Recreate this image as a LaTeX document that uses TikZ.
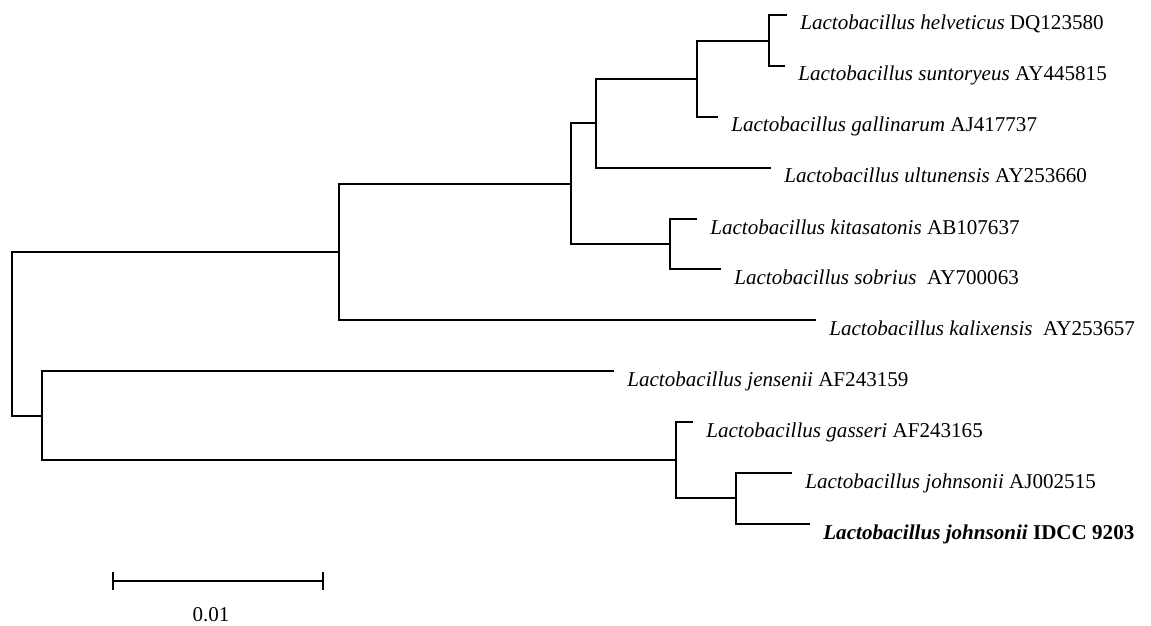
\documentclass[tikz,border=0pt]{standalone}
\usepackage{fontspec}
\setmainfont{Liberation Serif}
\usetikzlibrary{arrows.meta,positioning}

\begin{document}
\begin{tikzpicture}[x=0.02cm,y=-0.02cm,
  branch/.style={line width=1.1pt},
  taxon/.style={anchor=base west,inner sep=0pt,xshift=0.26cm,yshift=-0.3cm,font=\fontsize{12}{14}\selectfont}]
\useasboundingbox (0,0) rectangle (1151,625);
% inner nodes
\coordinate (root) at (12,334);
\coordinate (nA) at (339,252);
\coordinate (nB) at (42,416);
\coordinate (nC) at (571,184);
\coordinate (nD) at (596,123);
\coordinate (nE) at (697,79);
\coordinate (nF) at (769,41);
\coordinate (nG) at (670,244);
\coordinate (nH) at (676,460);
\coordinate (nI) at (736,498);
% tips
\coordinate (helv) at (787,15);
\coordinate (sunt) at (785,66);
\coordinate (gall) at (718,117);
\coordinate (ultu) at (771,168);
\coordinate (kita) at (697,219);
\coordinate (sobr) at (721,269);
\coordinate (kali) at (816,320);
\coordinate (jens) at (614,371);
\coordinate (gass) at (693,422);
\coordinate (john) at (792,473);
\coordinate (idcc) at (810,524);

\draw[branch] (root) |- (nA);
\draw[branch] (root) |- (nB);
\draw[branch] (nA) |- (nC);
\draw[branch] (nA) |- (kali);
\draw[branch] (nC) |- (nD);
\draw[branch] (nC) |- (nG);
\draw[branch] (nD) |- (nE);
\draw[branch] (nD) |- (ultu);
\draw[branch] (nE) |- (nF);
\draw[branch] (nE) |- (gall);
\draw[branch] (nF) |- (helv);
\draw[branch] (nF) |- (sunt);
\draw[branch] (nG) |- (kita);
\draw[branch] (nG) |- (sobr);
\draw[branch] (nB) |- (jens);
\draw[branch] (nB) |- (nH);
\draw[branch] (nH) |- (gass);
\draw[branch] (nH) |- (nI);
\draw[branch] (nI) |- (john);
\draw[branch] (nI) |- (idcc);

\node[taxon] (helvlbl) at (helv) {\textit{Lactobacillus helveticus} DQ123580};
\node[taxon] (suntlbl) at (sunt) {\textit{Lactobacillus suntoryeus} AY445815};
\node[taxon] (galllbl) at (gall) {\textit{Lactobacillus gallinarum} AJ417737};
\node[taxon] (ultulbl) at (ultu) {\textit{Lactobacillus ultunensis} AY253660};
\node[taxon] (kitalbl) at (kita) {\textit{Lactobacillus kitasatonis} AB107637};
\node[taxon] (sobrlbl) at (sobr) {\textit{Lactobacillus sobrius}\enspace AY700063};
\node[taxon] (kalilbl) at (kali) {\textit{Lactobacillus kalixensis}\enspace AY253657};
\node[taxon] (jenslbl) at (jens) {\textit{Lactobacillus jensenii} AF243159};
\node[taxon] (gasslbl) at (gass) {\textit{Lactobacillus gasseri} AF243165};
\node[taxon] (johnlbl) at (john) {\textit{Lactobacillus johnsonii} AJ002515};
\node[taxon] (idcclbl) at (idcc) {\textbf{\textit{Lactobacillus johnsonii} IDCC 9203}};

% scale bar
\coordinate (barl) at (112,581);
\coordinate (barr) at (324,581);
\draw[branch,{Bar[width=0.36cm]}-{Bar[width=0.36cm]}] (barl) -- (barr);
\node[font=\fontsize{12}{14}\selectfont] (barlbl) at (211,615) {0.01};
\end{tikzpicture}
\end{document}
